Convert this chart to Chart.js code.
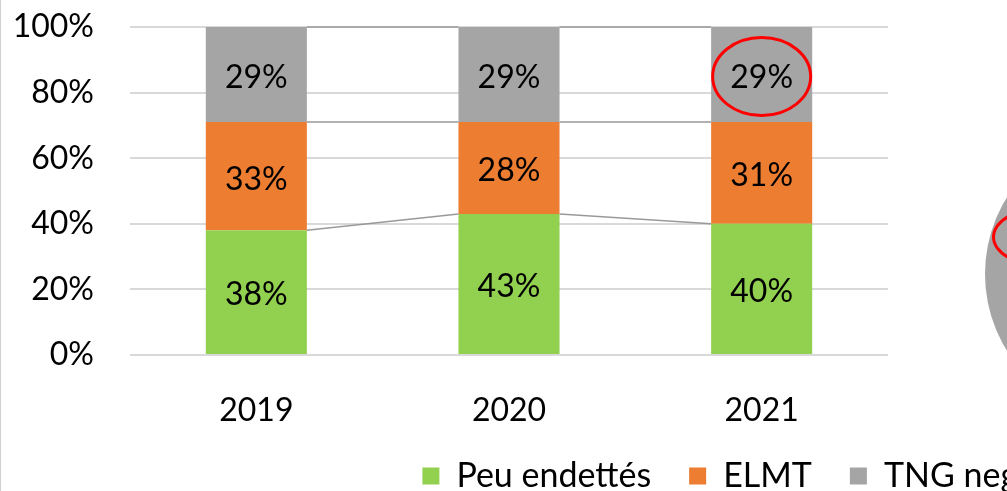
<!DOCTYPE html>
<html>
<head>
<meta charset="utf-8">
<script src="https://cdn.jsdelivr.net/npm/chart.js@4"></script>
<style>
  html, body { margin: 0; padding: 0; background: #fff; overflow: hidden; }
  #wrap { position: relative; width: 1490px; height: 491px; }
  #leftEdge { position: absolute; left: 0; top: 0; width: 1px; height: 491px; background: #d0d0d0; }
  #pie { position: absolute; left: 985px; top: 128px; width: 292px; height: 292px; border-radius: 50%; background: #a5a5a5; }
  #pieMark { position: absolute; left: 992px; top: 207px; width: 100px; height: 60px; border-radius: 50%; border: 3px solid #ff0000; box-sizing: border-box; }
</style>
</head>
<body>
<div id="wrap">
  <canvas id="chart" width="1490" height="491"></canvas>
  <div id="pie"></div>
  <div id="pieMark"></div>
  <div id="leftEdge"></div>
</div>
<script>
// Chart data
const years = ['2019', '2020', '2021'];
const peuEndettes = [38, 43, 40];
const elmt = [33, 28, 31];
const tngNeg = [29, 29, 29];
const yTicks = [0, 20, 40, 60, 80, 100];

const FONT = 'Lato, "Open Sans", sans-serif';
const CANVAS_W = 1490;
const PLOT_RIGHT = 888;

// Excel-like series lines between stacked segments
const seriesLines = {
  id: 'seriesLines',
  beforeDatasetsDraw(chart) {
    const ctx = chart.ctx;
    ctx.save();
    ctx.strokeStyle = '#999999';
    ctx.lineWidth = 1.5;
    chart.data.datasets.forEach((ds, di) => {
      const bars = chart.getDatasetMeta(di).data;
      for (let i = 0; i < bars.length - 1; i++) {
        const a = bars[i];
        const b = bars[i + 1];
        ctx.beginPath();
        ctx.moveTo(a.x + a.width / 2, a.y);
        ctx.lineTo(b.x - b.width / 2, b.y);
        ctx.stroke();
      }
    });
    ctx.restore();
  },
};

// Value labels in the middle of each segment + red circle on 2021 TNG
const valueLabels = {
  id: 'valueLabels',
  afterDatasetsDraw(chart) {
    const ctx = chart.ctx;
    ctx.save();
    ctx.font = '32px ' + FONT;
    ctx.fillStyle = '#000';
    ctx.textAlign = 'center';
    ctx.textBaseline = 'middle';
    chart.data.datasets.forEach((ds, di) => {
      chart.getDatasetMeta(di).data.forEach((bar, i) => {
        ctx.fillText(ds.data[i] + '%', bar.x, (bar.y + bar.base) / 2 + 3);
      });
    });

    const mark = chart.getDatasetMeta(2).data[2];
    ctx.strokeStyle = '#ff0000';
    ctx.lineWidth = 3;
    ctx.beginPath();
    ctx.ellipse(mark.x, (mark.y + mark.base) / 2 + 2, 49, 39, 0, 0, Math.PI * 2);
    ctx.stroke();
    ctx.restore();
  },
};

new Chart(document.getElementById('chart'), {
  type: 'bar',
  data: {
    labels: years,
    datasets: [
      { label: 'Peu endettés', data: peuEndettes, backgroundColor: '#92d050' },
      { label: 'ELMT', data: elmt, backgroundColor: '#ed7d31' },
      { label: 'TNG negatif', data: tngNeg, backgroundColor: '#a5a5a5' },
    ],
  },
  options: {
    responsive: false,
    animation: false,
    layout: { padding: { top: 27, left: 0, right: 0, bottom: 0 } },
    datasets: {
      bar: { categoryPercentage: 1, barPercentage: 0.4 },
    },
    plugins: {
      legend: {
        position: 'bottom',
        maxHeight: 70,
        labels: {
          boxWidth: 17,
          boxHeight: 17,
          padding: 38,
          color: '#000',
          font: { family: FONT, size: 34 },
        },
      },
      tooltip: { enabled: false },
    },
    scales: {
      x: {
        stacked: true,
        grid: { display: false },
        border: { display: false },
        ticks: { color: '#000', padding: 28, font: { family: FONT, size: 32 } },
        afterFit(scale) {
          scale.height = 66;
        },
      },
      y: {
        stacked: true,
        min: 0,
        max: 100,
        afterBuildTicks(scale) {
          scale.ticks = yTicks.map((v) => ({ value: v }));
        },
        grid: { color: '#d9d9d9', lineWidth: 2, drawTicks: false },
        border: { display: false },
        ticks: {
          color: '#000',
          padding: 36,
          font: { family: FONT, size: 32 },
          callback: (v) => v + '%',
        },
        afterFit(scale) {
          scale.width = 130;
          scale.paddingTop = 0;
          scale.paddingBottom = 0;
        },
      },
      // empty right-hand space where the pie chart sits in the original figure
      side: {
        position: 'right',
        grid: { display: false },
        border: { display: false },
        ticks: { display: false },
        afterFit(scale) {
          scale.width = CANVAS_W - PLOT_RIGHT;
          scale.paddingTop = 0;
          scale.paddingBottom = 0;
        },
      },
    },
  },
  plugins: [seriesLines, valueLabels],
});
</script>
</body>
</html>
